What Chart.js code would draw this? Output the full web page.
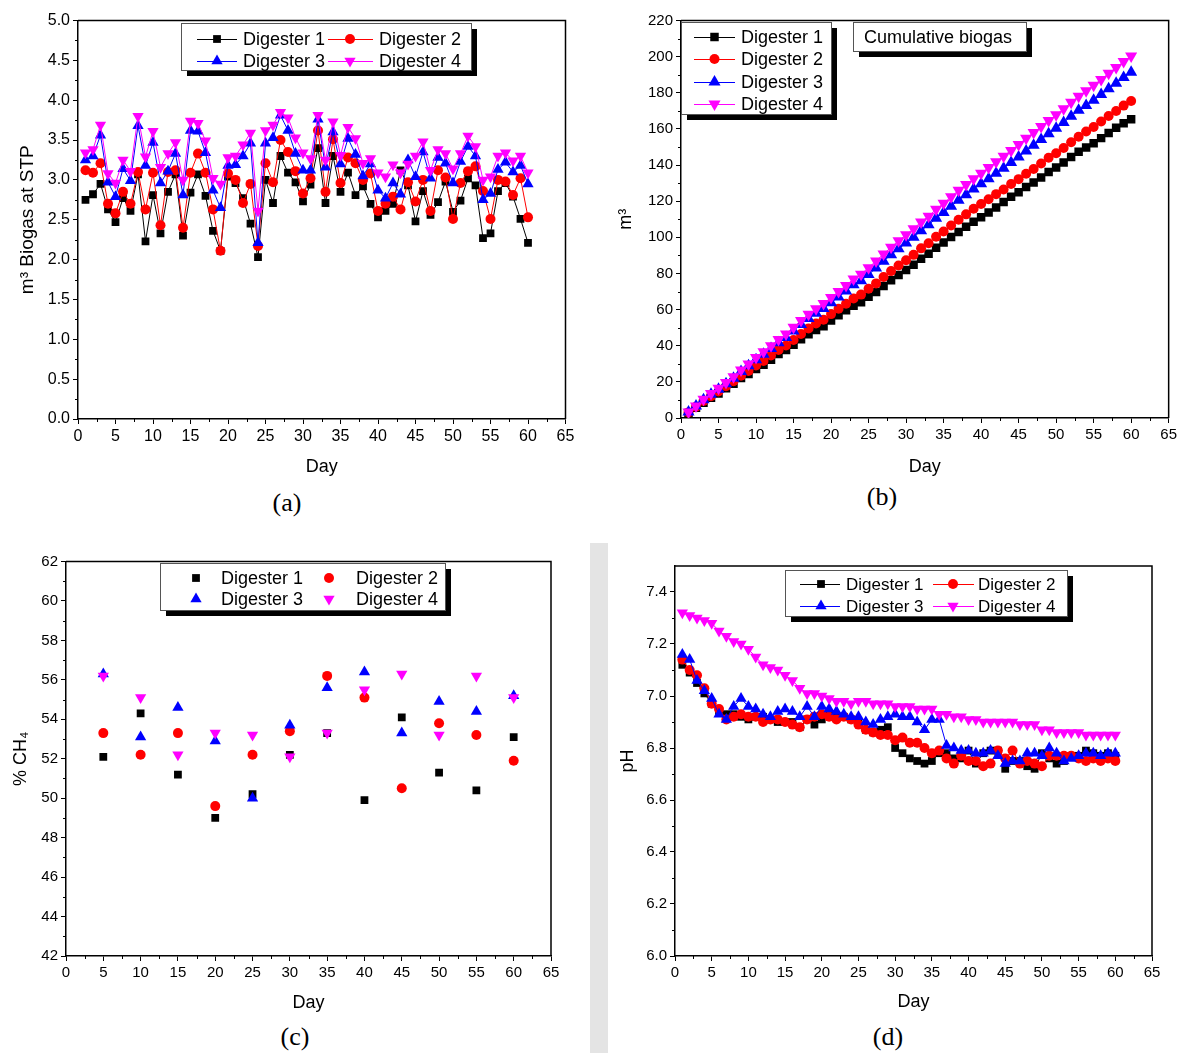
<!DOCTYPE html>
<html lang="en">
<head>
    <meta charset="UTF-8">
    <title>Digester performance</title>
    <script src="https://cdn.jsdelivr.net/npm/chart.js"></script>
    <style>
        body {
            margin: 0;
            background: #fff;
            font-family: 'Liberation Sans', Arial, sans-serif;
        }
        #page {
            position: relative;
            width: 1180px;
            height: 1053px;
            overflow: hidden;
            background: #fff;
        }
        canvas {
            position: absolute;
        }
        .tag {
            position: absolute;
            font-family: 'Liberation Serif', 'Times New Roman', serif;
            font-size: 26px;
            color: #000;
            transform: translate(-50%, -50%);
        }
        .band {
            position: absolute;
            left: 590px;
            top: 543px;
            width: 18px;
            height: 510px;
            background: #e4e4e4;
        }
    </style>
</head>
<body>
<div id="page">
    <div class="band"></div>
    <canvas id="chartA" width="590" height="482" style="left:0;top:0"></canvas>
    <canvas id="chartB" width="580" height="482" style="left:600px;top:0"></canvas>
    <canvas id="chartC" width="590" height="478" style="left:0;top:540px"></canvas>
    <canvas id="chartD" width="580" height="477" style="left:600px;top:540px"></canvas>
    <div class="tag" style="left:287px;top:503px">(a)</div>
    <div class="tag" style="left:882px;top:497px">(b)</div>
    <div class="tag" style="left:295px;top:1037px">(c)</div>
    <div class="tag" style="left:888px;top:1037px">(d)</div>
</div>

<script>
    // ---- data ----
    const days = [1, 2, 3, 4, 5, 6, 7, 8, 9, 10, 11, 12, 13, 14, 15, 16, 17, 18, 19, 20,
        21, 22, 23, 24, 25, 26, 27, 28, 29, 30, 31, 32, 33, 34, 35, 36, 37, 38, 39, 40,
        41, 42, 43, 44, 45, 46, 47, 48, 49, 50, 51, 52, 53, 54, 55, 56, 57, 58, 59, 60];
    const labels = ['Digester 1', 'Digester 2', 'Digester 3', 'Digester 4'];

    // daily biogas, m3 at STP
    const gasD1 = [2.75, 2.82, 2.95, 2.63, 2.47, 2.77, 2.61, 3.07, 2.23, 2.81, 2.33, 2.85, 3.07, 2.30, 2.84,
        3.07, 2.80, 2.36, 2.11, 3.04, 2.96, 2.77, 2.45, 2.03, 3.00, 2.71, 3.30, 3.09, 2.97, 2.73,
        2.94, 3.40, 2.71, 3.30, 2.85, 3.09, 2.81, 2.92, 2.70, 2.53, 2.61, 2.70, 3.12, 2.93, 2.48,
        2.86, 2.56, 2.72, 2.98, 2.60, 2.74, 3.02, 2.93, 2.27, 2.33, 2.86, 2.96, 2.79, 2.51, 2.21];
    const gasD2 = [3.12, 3.09, 3.21, 2.70, 2.58, 2.85, 2.70, 3.10, 2.63, 3.09, 2.43, 3.10, 3.12, 2.40, 3.09,
        3.33, 3.09, 2.63, 2.11, 3.08, 3.00, 2.71, 2.95, 2.17, 3.21, 2.97, 3.50, 3.35, 3.11, 2.83,
        3.02, 3.62, 2.85, 3.51, 2.96, 3.28, 3.21, 3.00, 3.08, 2.61, 2.70, 2.79, 2.63, 2.97, 2.73,
        3.00, 2.61, 3.12, 3.03, 2.51, 2.96, 3.11, 3.17, 2.86, 2.51, 3.00, 2.98, 2.81, 3.02, 2.53];
    const gasD3 = [3.25, 3.30, 3.56, 2.97, 2.79, 3.14, 2.99, 3.68, 3.18, 3.47, 2.96, 3.11, 3.33, 2.81, 3.62,
        3.61, 3.34, 2.87, 2.65, 3.18, 3.19, 3.30, 3.46, 2.21, 3.46, 3.53, 3.81, 3.62, 3.33, 3.12,
        3.12, 3.76, 3.16, 3.60, 3.20, 3.52, 3.32, 3.05, 3.20, 2.87, 2.77, 2.96, 2.82, 3.25, 3.04,
        3.35, 3.02, 3.28, 3.21, 2.96, 3.23, 3.42, 3.30, 2.75, 2.83, 3.13, 3.22, 3.10, 3.18, 2.95];
    const gasD4 = [3.34, 3.38, 3.69, 3.08, 2.96, 3.25, 3.11, 3.80, 3.29, 3.61, 3.16, 3.33, 3.47, 3.00, 3.74,
        3.71, 3.49, 3.02, 2.95, 3.28, 3.30, 3.44, 3.59, 2.61, 3.62, 3.69, 3.85, 3.78, 3.53, 3.34,
        3.27, 3.81, 3.25, 3.73, 3.31, 3.66, 3.52, 3.21, 3.27, 3.09, 3.04, 3.19, 3.09, 3.20, 3.30,
        3.48, 3.12, 3.38, 3.33, 3.14, 3.33, 3.55, 3.42, 3.00, 3.04, 3.30, 3.34, 3.24, 3.30, 3.09];

    // cumulative biogas, m3
    const cumD1 = [2.8, 5.6, 8.5, 11.2, 13.6, 16.4, 19.0, 22.1, 24.3, 27.1, 29.4, 32.3, 35.4, 37.7, 40.5,
        43.6, 46.4, 48.7, 50.8, 53.9, 56.8, 59.6, 62.1, 64.1, 67.1, 69.8, 73.1, 76.2, 79.2, 81.9,
        84.8, 88.2, 90.9, 94.2, 97.1, 100.2, 103.0, 105.9, 108.6, 111.1, 113.8, 116.5, 119.6, 122.5, 125.0,
        127.8, 130.4, 133.1, 136.1, 138.7, 141.4, 144.5, 147.4, 149.7, 152.0, 154.9, 157.8, 160.6, 163.1, 165.3];
    const cumD2 = [3.1, 6.2, 9.4, 12.1, 14.7, 17.6, 20.3, 23.4, 26.0, 29.1, 31.5, 34.6, 37.7, 40.1, 43.2,
        46.5, 49.6, 52.3, 54.4, 57.5, 60.5, 63.2, 66.1, 68.3, 71.5, 74.5, 78.0, 81.3, 84.4, 87.3,
        90.3, 93.9, 96.7, 100.3, 103.2, 106.5, 109.7, 112.7, 115.8, 118.4, 121.1, 123.9, 126.5, 129.5, 132.2,
        135.2, 137.8, 140.9, 144.0, 146.5, 149.4, 152.6, 155.7, 158.6, 161.1, 164.1, 167.1, 169.9, 172.9, 175.4];
    const cumD3 = [3.3, 6.6, 10.1, 13.1, 15.9, 19.0, 22.0, 25.7, 28.9, 32.3, 35.3, 38.4, 41.7, 44.5, 48.2,
        51.8, 55.1, 58.0, 60.6, 63.8, 67.0, 70.3, 73.8, 76.0, 79.4, 83.0, 86.8, 90.4, 93.7, 96.8,
        100.0, 103.7, 106.9, 110.5, 113.7, 117.2, 120.5, 123.6, 126.8, 129.6, 132.4, 135.4, 138.2, 141.4, 144.5,
        147.8, 150.9, 154.1, 157.3, 160.3, 163.5, 167.0, 170.3, 173.0, 175.8, 179.0, 182.2, 185.3, 188.5, 191.4];
    const cumD4 = [3.3, 6.7, 10.4, 13.5, 16.5, 19.7, 22.8, 26.6, 29.9, 33.5, 36.7, 40.0, 43.5, 46.5, 50.2,
        53.9, 57.4, 60.4, 63.4, 66.7, 70.0, 73.4, 77.0, 79.6, 83.2, 86.9, 90.8, 94.5, 98.1, 101.4,
        104.7, 108.5, 111.7, 115.5, 118.8, 122.4, 126.0, 129.2, 132.4, 135.5, 138.6, 141.8, 144.9, 148.1, 151.4,
        154.8, 158.0, 161.3, 164.7, 167.8, 171.1, 174.7, 178.1, 181.1, 184.1, 187.4, 190.8, 194.0, 197.3, 200.4];

    // methane content, sampled every 5 days
    const ch4Days = [5, 10, 15, 20, 25, 30, 35, 40, 45, 50, 55, 60];
    const ch4D1 = [52.1, 54.3, 51.2, 49.0, 50.2, 52.2, 53.3, 49.9, 54.1, 51.3, 50.4, 53.1];
    const ch4D2 = [53.3, 52.2, 53.3, 49.6, 52.2, 53.4, 56.2, 55.1, 50.5, 53.8, 53.2, 51.9];
    const ch4D3 = [56.3, 53.1, 54.6, 52.9, 50.0, 53.7, 55.6, 56.4, 53.3, 54.9, 54.4, 55.2];
    const ch4D4 = [56.2, 55.1, 52.2, 53.3, 53.2, 52.1, 53.3, 55.5, 56.3, 53.2, 56.2, 55.1];

    // pH
    const phD1 = [7.12, 7.09, 7.05, 7.01, 6.97, 6.94, 6.93, 6.93, 6.92, 6.91, 6.92, 6.92, 6.91, 6.90, 6.90,
        6.90, 6.88, 6.91, 6.89, 6.91, 6.93, 6.92, 6.92, 6.91, 6.90, 6.87, 6.86, 6.87, 6.88, 6.80,
        6.78, 6.76, 6.75, 6.74, 6.75, 6.78, 6.78, 6.76, 6.76, 6.79, 6.74, 6.78, 6.79, 6.79, 6.72,
        6.75, 6.75, 6.73, 6.72, 6.78, 6.76, 6.74, 6.75, 6.77, 6.77, 6.79, 6.78, 6.77, 6.78, 6.77];
    const phD2 = [7.14, 7.10, 7.08, 7.03, 6.97, 6.95, 6.91, 6.92, 6.93, 6.92, 6.92, 6.90, 6.91, 6.91, 6.90,
        6.89, 6.88, 6.91, 6.92, 6.93, 6.92, 6.91, 6.92, 6.91, 6.89, 6.87, 6.86, 6.85, 6.85, 6.83,
        6.84, 6.82, 6.82, 6.80, 6.78, 6.79, 6.76, 6.74, 6.77, 6.75, 6.75, 6.73, 6.74, 6.79, 6.76,
        6.79, 6.74, 6.75, 6.74, 6.73, 6.77, 6.77, 6.77, 6.77, 6.76, 6.75, 6.76, 6.75, 6.76, 6.75];
    const phD3 = [7.16, 7.14, 7.06, 7.02, 6.99, 6.93, 6.91, 6.96, 6.99, 6.96, 6.95, 6.93, 6.92, 6.94, 6.95,
        6.94, 6.92, 6.96, 6.92, 6.96, 6.95, 6.94, 6.93, 6.92, 6.92, 6.90, 6.89, 6.91, 6.92, 6.93,
        6.92, 6.92, 6.90, 6.87, 6.91, 6.91, 6.81, 6.80, 6.79, 6.79, 6.78, 6.78, 6.79, 6.77, 6.74,
        6.75, 6.75, 6.78, 6.78, 6.77, 6.80, 6.78, 6.75, 6.76, 6.77, 6.78, 6.78, 6.77, 6.78, 6.78];
    const phD4 = [7.32, 7.31, 7.30, 7.29, 7.28, 7.25, 7.23, 7.21, 7.20, 7.18, 7.15, 7.12, 7.11, 7.10, 7.08,
        7.06, 7.03, 7.01, 7.01, 7.00, 6.99, 6.98, 6.98, 6.97, 6.98, 6.98, 6.97, 6.97, 6.97, 6.96,
        6.96, 6.96, 6.95, 6.95, 6.95, 6.93, 6.93, 6.92, 6.92, 6.91, 6.91, 6.90, 6.90, 6.90, 6.90,
        6.90, 6.89, 6.89, 6.89, 6.87, 6.87, 6.86, 6.86, 6.86, 6.86, 6.85, 6.85, 6.85, 6.85, 6.85];

    // ---- styling helpers ----
    const FONT = "'Liberation Sans', Arial, 'DejaVu Sans', sans-serif";
    const colors = ['#000000', '#ff0000', '#0000ff', '#ff00ff'];
    const styles = ['rect', 'circle', 'triangle', 'triangle'];
    const rotations = [0, 0, 0, 180];

    function makeSets(xs, seriesList, radii, showLine) {
        return seriesList.map((ys, i) => ({
            label: labels[i],
            data: xs.map((d, k) => ({ x: d, y: ys[k] })),
            borderColor: colors[i],
            backgroundColor: colors[i],
            borderWidth: 1,
            showLine: showLine,
            pointStyle: styles[i],
            rotation: rotations[i],
            pointRotation: rotations[i],
            pointRadius: radii[i],
            pointBorderWidth: 0,
            pointBackgroundColor: colors[i],
            pointBorderColor: colors[i],
            order: 3 - i
        }));
    }

    function drawMarker(ctx, style, rot, x, y, r, color) {
        ctx.fillStyle = color;
        ctx.beginPath();
        if (style === 'rect') {
            const s = r * Math.SQRT1_2;
            ctx.rect(x - s, y - s, 2 * s, 2 * s);
        } else if (style === 'circle') {
            ctx.arc(x, y, r, 0, Math.PI * 2);
        } else {
            let a = rot * Math.PI / 180;
            ctx.moveTo(x + Math.sin(a) * r, y - Math.cos(a) * r);
            for (let k = 0; k < 2; k++) {
                a += Math.PI * 2 / 3;
                ctx.lineTo(x + Math.sin(a) * r, y - Math.cos(a) * r);
            }
            ctx.closePath();
        }
        ctx.fill();
    }

    // legend / note box with the black drop shadow
    function drawBox(ctx, chart, b) {
        ctx.fillStyle = '#000';
        ctx.fillRect(b.x + 6, b.y + 6, b.w, b.h);
        ctx.fillStyle = '#fff';
        ctx.fillRect(b.x, b.y, b.w, b.h);
        ctx.strokeStyle = '#555';
        ctx.lineWidth = 1;
        ctx.strokeRect(b.x + 0.5, b.y + 0.5, b.w, b.h);
        ctx.font = b.font;
        ctx.textBaseline = 'middle';
        ctx.textAlign = 'left';
        if (b.text) {
            ctx.fillStyle = '#000';
            ctx.fillText(b.text, b.tx, b.ty);
        }
        (b.items || []).forEach(it => {
            const ds = chart.data.datasets[it.ds];
            if (it.lx1) {
                ctx.strokeStyle = ds.borderColor;
                ctx.lineWidth = 1;
                ctx.beginPath();
                ctx.moveTo(it.lx0, it.y + 0.5);
                ctx.lineTo(it.lx1, it.y + 0.5);
                ctx.stroke();
            }
            drawMarker(ctx, ds.pointStyle, ds.pointRotation, it.mx, it.y, ds.pointRadius, ds.backgroundColor);
            ctx.fillStyle = '#000';
            ctx.fillText(ds.label, it.tx, it.y + 1);
        });
    }

    // closed frame, minor ticks and legend boxes
    const originFrame = {
        id: 'originFrame',
        afterDraw(chart, args, o) {
            const { ctx, chartArea: a, scales: { x, y } } = chart;
            ctx.save();
            ctx.strokeStyle = '#000';
            ctx.lineWidth = 1.5;
            ctx.beginPath();
            ctx.moveTo(a.left, a.top);
            ctx.lineTo(a.right, a.top);
            ctx.lineTo(a.right, a.bottom);
            ctx.stroke();

            ctx.lineWidth = 1;
            ctx.beginPath();
            for (let v = x.min + o.xMinor; v < x.max; v += 2 * o.xMinor) {
                const px = Math.round(x.getPixelForValue(v)) + 0.5;
                ctx.moveTo(px, a.bottom);
                ctx.lineTo(px, a.bottom + 3);
            }
            for (let v = y.min + o.yMinor; v < y.max - 1e-9; v += 2 * o.yMinor) {
                const py = Math.round(y.getPixelForValue(v)) + 0.5;
                ctx.moveTo(a.left, py);
                ctx.lineTo(a.left - 3, py);
            }
            ctx.stroke();

            (o.boxes || []).forEach(b => drawBox(ctx, chart, b));
            ctx.restore();
        }
    };

    function makeChart(id, p) {
        const ctx = document.getElementById(id).getContext('2d');
        return new Chart(ctx, {
            type: 'line',
            data: { datasets: p.datasets },
            options: {
                responsive: false,
                animation: false,
                layout: { padding: { left: p.padLeft, top: p.padTop, right: p.padRight, bottom: 0 } },
                plugins: {
                    legend: { display: false },
                    tooltip: { enabled: false },
                    originFrame: { xMinor: 2.5, yMinor: p.yMinor, boxes: p.boxes }
                },
                scales: {
                    x: {
                        type: 'linear',
                        min: 0,
                        max: 65,
                        ticks: {
                            stepSize: 5,
                            autoSkip: false,
                            maxRotation: 0,
                            padding: 3,
                            color: '#000',
                            font: { family: FONT, size: p.tickSize }
                        },
                        grid: { drawOnChartArea: false, tickLength: 5, color: '#000', tickColor: '#000' },
                        border: { color: '#000', width: 1.5 },
                        title: {
                            display: true, text: 'Day', color: '#000',
                            font: { family: FONT, size: 18 }, padding: { top: 4, bottom: 4 }
                        },
                        afterFit: s => { s.height = p.xHeight; }
                    },
                    y: {
                        type: 'linear',
                        min: p.yMin,
                        max: p.yMax,
                        ticks: {
                            stepSize: p.yStep,
                            includeBounds: false,
                            padding: 3,
                            color: '#000',
                            font: { family: FONT, size: p.tickSize },
                            callback: v => v.toFixed(p.decimals)
                        },
                        grid: { drawOnChartArea: false, tickLength: 5, color: '#000', tickColor: '#000' },
                        border: { color: '#000', width: 1.5 },
                        title: {
                            display: true, text: p.yTitle, color: '#000',
                            font: { family: FONT, size: p.yTitleSize }, padding: { top: 4, bottom: 4 }
                        },
                        afterFit: s => { s.width = p.yWidth; }
                    }
                }
            },
            plugins: [originFrame]
        });
    }

    // (a) daily biogas
    makeChart('chartA', {
        datasets: makeSets(days, [gasD1, gasD2, gasD3, gasD4], [5.5, 5, 6.5, 6.5], true),
        padLeft: 12, padTop: 20.5, padRight: 24.5, yWidth: 66, xHeight: 63,
        yMin: 0, yMax: 5, yStep: 0.5, yMinor: 0.25, decimals: 1,
        tickSize: 16, yTitle: 'm³ Biogas at STP', yTitleSize: 19,
        boxes: [{
            x: 181, y: 23, w: 290, h: 47, font: '18px ' + FONT,
            items: [
                { ds: 0, lx0: 197, lx1: 237, mx: 217, tx: 243, y: 39 },
                { ds: 1, lx0: 328, lx1: 373, mx: 350, tx: 379, y: 39 },
                { ds: 2, lx0: 197, lx1: 237, mx: 217, tx: 243, y: 61 },
                { ds: 3, lx0: 328, lx1: 373, mx: 350, tx: 379, y: 61 }
            ]
        }]
    });

    // (b) cumulative biogas
    makeChart('chartB', {
        datasets: makeSets(days, [cumD1, cumD2, cumD3, cumD4], [6, 5, 7, 7], true),
        padLeft: 11, padTop: 20.5, padRight: 10, yWidth: 70, xHeight: 64,
        yMin: 0, yMax: 220, yStep: 20, yMinor: 10, decimals: 0,
        tickSize: 15, yTitle: 'm³', yTitleSize: 18,
        boxes: [{
            x: 81, y: 22, w: 150, h: 92, font: '18px ' + FONT,
            items: [
                { ds: 0, lx0: 94, lx1: 135, mx: 114.5, tx: 141, y: 37 },
                { ds: 1, lx0: 94, lx1: 135, mx: 114.5, tx: 141, y: 59 },
                { ds: 2, lx0: 94, lx1: 135, mx: 114.5, tx: 141, y: 82 },
                { ds: 3, lx0: 94, lx1: 135, mx: 114.5, tx: 141, y: 104 }
            ]
        }, {
            x: 253, y: 22, w: 173, h: 29, font: '18px ' + FONT,
            text: 'Cumulative biogas', tx: 264, ty: 38
        }]
    });

    // (c) methane content
    makeChart('chartC', {
        datasets: makeSets(ch4Days, [ch4D1, ch4D2, ch4D3, ch4D4], [5.5, 5, 6.5, 6.5], false),
        padLeft: 6, padTop: 21.5, padRight: 39, yWidth: 60, xHeight: 62,
        yMin: 42, yMax: 62, yStep: 2, yMinor: 1, decimals: 0,
        tickSize: 15, yTitle: '% CH₄', yTitleSize: 18,
        boxes: [{
            x: 160, y: 23, w: 285, h: 47, font: '18px ' + FONT,
            items: [
                { ds: 0, mx: 196, tx: 221, y: 38 },
                { ds: 1, mx: 329, tx: 356, y: 38 },
                { ds: 2, mx: 196, tx: 221, y: 59 },
                { ds: 3, mx: 329, tx: 356, y: 59 }
            ]
        }]
    });

    // (d) pH
    makeChart('chartD', {
        datasets: makeSets(days, [phD1, phD2, phD3, phD4], [5.5, 5, 6.5, 6.5], true),
        padLeft: 13, padTop: 26, padRight: 28, yWidth: 62, xHeight: 61,
        yMin: 6.0, yMax: 7.5, yStep: 0.2, yMinor: 0.1, decimals: 1,
        tickSize: 15, yTitle: 'pH', yTitleSize: 18,
        boxes: [{
            x: 185, y: 30, w: 282, h: 46, font: '17px ' + FONT,
            items: [
                { ds: 0, lx0: 200, lx1: 240, mx: 221, tx: 246, y: 44 },
                { ds: 1, lx0: 333, lx1: 374, mx: 353, tx: 378, y: 44 },
                { ds: 2, lx0: 200, lx1: 240, mx: 221, tx: 246, y: 66 },
                { ds: 3, lx0: 333, lx1: 374, mx: 353, tx: 378, y: 66 }
            ]
        }]
    });
</script>
</body>
</html>
